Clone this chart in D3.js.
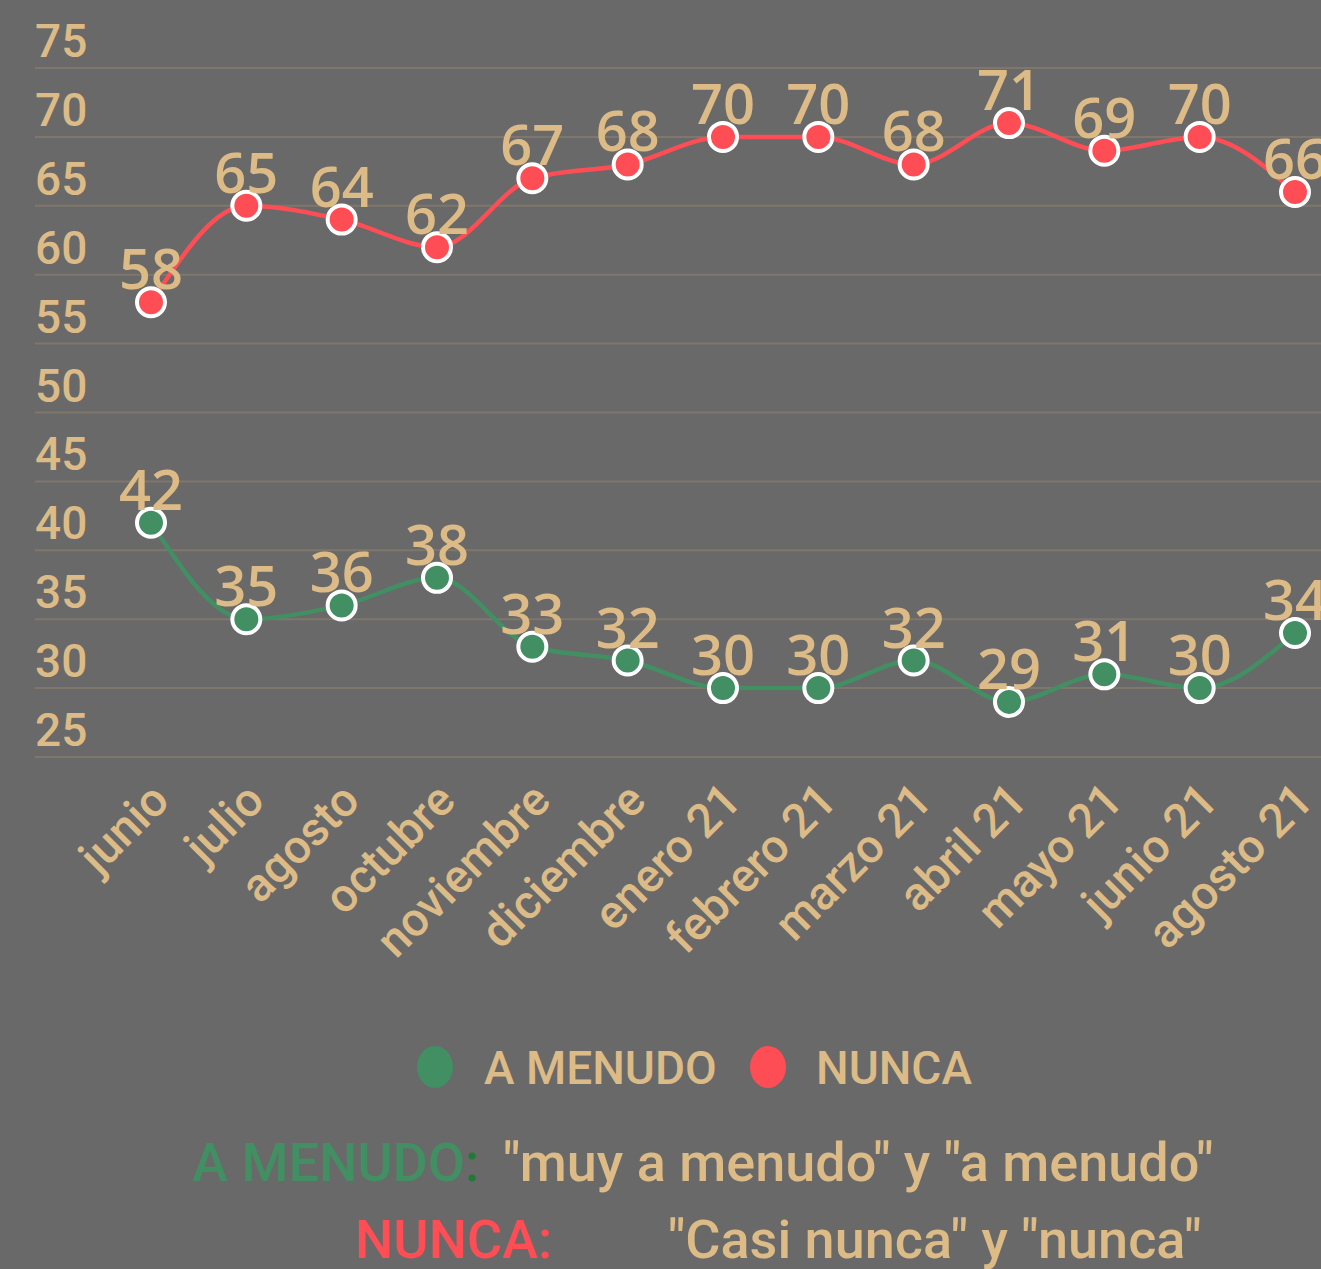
<!DOCTYPE html>
<html>
<head>
<meta charset="utf-8">
<script src="https://cdn.jsdelivr.net/npm/d3@7"></script>
<style>
html, body { margin:0; padding:0; background:#696969; }
svg { display:block; }
</style>
</head>
<body>
<svg id="chart"></svg>
<script>
var months = ["junio","julio","agosto","octubre","noviembre","diciembre","enero 21","febrero 21","marzo 21","abril 21","mayo 21","junio 21","agosto 21"];
var aMenudo = [42,35,36,38,33,32,30,30,32,29,31,30,34];
var nunca = [58,65,64,62,67,68,70,70,68,71,69,70,66];
var yTicks = [25,30,35,40,45,50,55,60,65,70,75];

var W = 1321, H = 1269;
var tan = "#dcbb87", green = "#418f62", red = "#ff4d55", grid = "#80776c";

var svg = d3.select("#chart").attr("width", W).attr("height", H);

// escalas
var x = d3.scalePoint().domain(months).range([151, 1295]);
var y = d3.scaleLinear().domain([25, 75]).range([757, 68]);

// rejilla + etiquetas del eje y (encima de la linea)
svg.append("g").selectAll("line").data(yTicks).enter().append("line")
	.attr("x1", 35).attr("x2", W)
	.attr("y1", function(d){return y(d);}).attr("y2", function(d){return y(d);})
	.attr("stroke", grid).attr("stroke-width", 2);

svg.append("g").selectAll("text").data(yTicks).enter().append("text")
	.attr("x", 35).attr("y", function(d){return y(d) - 11;})
	.attr("fill", tan).attr("font-family", "Roboto").attr("font-weight", 500).attr("font-size", 46)
	.text(function(d){return d;});

// eje x
var xAxis = svg.append("g").attr("transform", "translate(0,803)")
	.call(d3.axisBottom(x).tickSize(0).tickPadding(0));
xAxis.select(".domain").remove();
xAxis.selectAll("text")
	.attr("fill", tan).attr("font-family", "Roboto").attr("font-weight", 500).attr("font-size", 47)
	.attr("text-anchor", "end").attr("dy", 0)
	.attr("transform", "translate(20,0) rotate(-45)");

// series
var series = [{name:"A MENUDO", values:aMenudo, color:green}, {name:"NUNCA", values:nunca, color:red}];
var line = d3.line().x(function(d,i){return x(months[i]);}).y(function(d){return y(d);}).curve(d3.curveMonotoneX);

series.forEach(function(s){
	var g = svg.append("g");
	g.append("path").datum(s.values).attr("d", line)
		.attr("fill", "none").attr("stroke", s.color).attr("stroke-width", 4.5);
	g.selectAll("circle").data(s.values).enter().append("circle")
		.attr("cx", function(d,i){return x(months[i]);}).attr("cy", function(d){return y(d);})
		.attr("r", 14).attr("fill", s.color).attr("stroke", "#fff").attr("stroke-width", 4);
	g.selectAll("text").data(s.values).enter().append("text")
		.attr("x", function(d,i){return x(months[i]);}).attr("y", function(d){return y(d) - 13;})
		.attr("text-anchor", "middle").attr("fill", tan)
		.attr("font-family", "Open Sans").attr("font-weight", 600).attr("font-size", 56)
		.text(function(d){return d;});
});

// leyenda
var legend = [{name:"A MENUDO", color:green, cx:435, tx:484}, {name:"NUNCA", color:red, cx:768, tx:816}];
var lg = svg.append("g");
lg.selectAll("ellipse").data(legend).enter().append("ellipse")
	.attr("cx", function(d){return d.cx;}).attr("cy", 1067).attr("rx", 18).attr("ry", 21)
	.attr("fill", function(d){return d.color;});
lg.selectAll("text").data(legend).enter().append("text")
	.attr("x", function(d){return d.tx;}).attr("y", 1084)
	.attr("fill", tan).attr("font-family", "Roboto").attr("font-weight", 500).attr("font-size", 46)
	.text(function(d){return d.name;});

// notas
var n1 = svg.append("text").attr("y", 1181).attr("font-family", "Roboto").attr("font-weight", 500).attr("font-size", 54);
n1.append("tspan").attr("x", 192).attr("fill", green).text("A MENUDO");
n1.append("tspan").attr("fill", "#1f7a35").text(":");
n1.append("tspan").attr("x", 503).attr("fill", tan).text("\"muy a menudo\" y \"a menudo\"");

var n2 = svg.append("text").attr("y", 1258).attr("font-family", "Roboto").attr("font-weight", 500).attr("font-size", 54);
n2.append("tspan").attr("x", 355).attr("fill", red).text("NUNCA:");
n2.append("tspan").attr("x", 668).attr("fill", tan).text("\"Casi nunca\" y \"nunca\"");
</script>
</body>
</html>
